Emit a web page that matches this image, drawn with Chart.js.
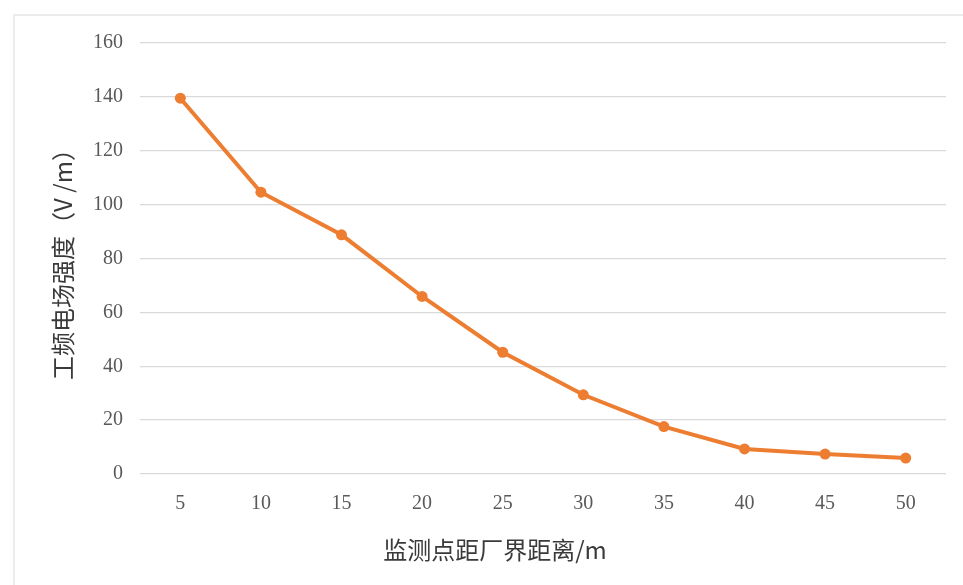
<!DOCTYPE html>
<html>
<head>
<meta charset="utf-8">
<script src="https://cdn.jsdelivr.net/npm/chart.js@4"></script>
<style>
  html, body { margin: 0; padding: 0; background: #ffffff; }
  #wrap { position: relative; width: 963px; height: 585px; overflow: hidden; }
  #frame { position: absolute; left: 13px; top: 14px; width: 1000px; height: 700px;
           border-left: 2px solid #ececec; border-top: 2px solid #ececec; }
  canvas { position: absolute; left: 0; top: 0; }
</style>
</head>
<body>
<div id="wrap">
  <div id="frame"></div>
  <canvas id="c" width="963" height="585"></canvas>
</div>
<script>
const categories = ['5', '10', '15', '20', '25', '30', '35', '40', '45', '50'];
const fieldStrength = [139.5, 104.6, 88.8, 65.9, 45.2, 29.4, 17.6, 9.3, 7.4, 5.9];
const yTicks = [0, 20, 40, 60, 80, 100, 120, 140, 160];
const xTitle = '监测点距厂界距离/m\u3000\u3000\u3000\u3000';
const yTitle = '工频电场强度（V /m）';

const tickFont = { family: '"Liberation Serif", "DejaVu Serif", serif', size: 20 };
const titleFont = { family: '"Noto Sans CJK SC", sans-serif', size: 24 };

new Chart(document.getElementById('c'), {
  type: 'line',
  data: {
    labels: categories,
    datasets: [{
      data: fieldStrength,
      borderColor: '#ED7D31',
      backgroundColor: '#ED7D31',
      borderWidth: 4,
      pointRadius: 5.5,
      pointBorderWidth: 0,
      pointBackgroundColor: '#ED7D31',
      tension: 0
    }]
  },
  options: {
    responsive: false,
    animation: false,
    layout: { padding: { left: 40, top: 43, right: 17, bottom: 20 } },
    plugins: { legend: { display: false }, tooltip: { enabled: false } },
    scales: {
      x: {
        offset: true,
        grid: { display: false, drawTicks: false },
        border: { display: false },
        ticks: { color: '#595959', font: tickFont, padding: 18, maxRotation: 0 },
        title: { display: true, text: xTitle, color: '#3a3a3a', font: titleFont, padding: { top: 1, bottom: 1 } },
        afterFit(scale) { scale.height = 91; }
      },
      y: {
        min: 0, max: 160,
        afterBuildTicks(scale) { scale.ticks = yTicks.map(v => ({ value: v })); },
        grid: { color: '#d9d9d9', lineWidth: 1.3, drawTicks: false },
        border: { display: false },
        ticks: { color: '#595959', font: tickFont, padding: 17 },
        title: { display: true, text: yTitle, color: '#3a3a3a', font: titleFont, padding: { top: 8, bottom: 0 } },
        afterFit(scale) { scale.width = 100; }
      }
    }
  }
});
</script>
</body>
</html>
